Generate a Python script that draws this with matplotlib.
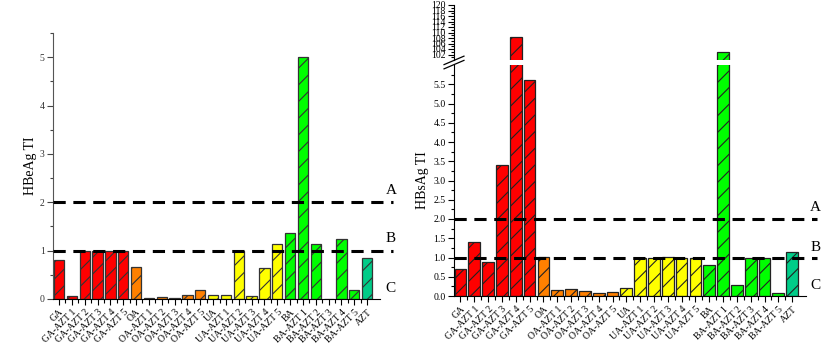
import matplotlib
matplotlib.use("Agg")
import matplotlib.pyplot as plt
from matplotlib.ticker import MultipleLocator, FixedLocator
import numpy as np

plt.rcParams['font.family'] = ['Liberation Serif', 'DejaVu Serif']
plt.rcParams['hatch.linewidth'] = 0.8

labels = ["GA", "GA-AZT 1", "GA-AZT 2", "GA-AZT 3", "GA-AZT 4", "GA-AZT 5",
          "OA", "OA-AZT 1", "OA-AZT 2", "OA-AZT 3", "OA-AZT 4", "OA-AZT 5",
          "UA", "UA-AZT 1", "UA-AZT 2", "UA-AZT 3", "UA-AZT 4", "UA-AZT 5",
          "BA", "BA-AZT 1", "BA-AZT 2", "BA-AZT 3", "BA-AZT 4", "BA-AZT 5",
          "AZT"]
groups = ["GA"] * 6 + ["OA"] * 6 + ["UA"] * 6 + ["BA"] * 6 + ["AZT"]
group_colors = {"GA": "#FF0000", "OA": "#FF8000", "UA": "#FFFF00",
                "BA": "#00FF00", "AZT": "#00CC88"}

hbeag = [0.81, 0.06, 1.0, 1.0, 1.0, 1.0,
         0.66, 0.03, 0.04, 0.03, 0.08, 0.18,
         0.08, 0.08, 1.0, 0.07, 0.65, 1.13,
         1.36, 5.0, 1.13, 0.01, 1.25, 0.19,
         0.84]
hbsag = [0.70, 1.40, 0.88, 3.40, 108.2, 5.60,
         1.02, 0.16, 0.17, 0.14, 0.085, 0.11,
         0.21, 1.0, 1.0, 1.01, 1.0, 1.0,
         0.81, 102.9, 0.29, 1.0, 1.0, 0.08,
         1.15]
thresholds = [2.0, 1.0]
zone_labels = ["A", "B", "C"]

colors = [group_colors[g] for g in groups]
x = np.arange(len(labels))

fig = plt.figure(figsize=(8.3, 3.53), dpi=100)

def style_x(ax, show_labels=True):
    ax.set_xlim(-0.47, 25.0)
    ax.xaxis.set_major_locator(FixedLocator(x))
    ax.xaxis.set_minor_locator(FixedLocator(x[:-1] + 0.5))
    if show_labels:
        ax.set_xticklabels(labels, rotation=45, ha='right', rotation_mode='anchor',
                           fontsize=7)
    ax.tick_params(axis='x', which='major', direction='out', length=4, width=0.8, pad=2)
    ax.tick_params(axis='x', which='minor', direction='out', length=3, width=0.8)

# ---------------- Left chart ----------------
axL = fig.add_axes([53 / 830, 1 - 299 / 353, 327 / 830, 266 / 353])
axL.bar(x, hbeag, width=0.8, color=colors, edgecolor='#333333', linewidth=0.9,
        hatch='//', zorder=2)
axL.set_ylim(0, 5.5)
axL.yaxis.set_major_locator(MultipleLocator(1))
axL.yaxis.set_minor_locator(MultipleLocator(0.5))
axL.tick_params(axis='y', which='major', direction='out', length=4, width=0.8,
                labelsize=7, colors='#444444', labelcolor='#333333', pad=2)
axL.tick_params(axis='y', which='minor', direction='out', length=2.5, width=0.8,
                colors='#444444')
style_x(axL)
for s in ['top', 'right']:
    axL.spines[s].set_visible(False)
axL.spines['left'].set_color('#555555')
axL.spines['bottom'].set_color('black')
for t in thresholds:
    axL.plot([-0.47, 26.0], [t, t], color='black', lw=2.2, ls=(0, (4, 2.5)),
             clip_on=False, zorder=3)
axL.set_ylabel("HBeAg TI", fontsize=10, labelpad=2)
for lab, yv in zip(zone_labels, [2.25, 1.25, 0.22]):
    axL.text(25.45, yv, lab, fontsize=11, ha='left', va='center', clip_on=False)

# ---------------- Right chart ----------------
left_r = 454 / 830
width_r = 352 / 830
axB = fig.add_axes([left_r, 1 - 296 / 353, width_r, (296 - 65) / 353])
axT = fig.add_axes([left_r, 1 - 60 / 353, width_r, 55 / 353], sharex=axB)

for ax in (axB, axT):
    ax.bar(x, hbsag, width=0.85, color=colors, edgecolor='#222222', linewidth=0.9,
           hatch='//', zorder=2)
    for s in ['top', 'right']:
        ax.spines[s].set_visible(False)

axB.set_ylim(0, 6.0)
axB.yaxis.set_major_locator(FixedLocator(np.arange(0, 5.51, 0.5)))
axB.yaxis.set_minor_locator(FixedLocator(np.arange(0.25, 5.9, 0.5)))
axB.yaxis.set_major_formatter(matplotlib.ticker.FormatStrFormatter('%.1f'))
axB.tick_params(axis='y', which='major', direction='out', length=4, width=0.8,
                labelsize=7, pad=2)
axB.tick_params(axis='y', which='minor', direction='out', length=2.5, width=0.8)
style_x(axB)

axT.set_ylim(100, 120)
axT.yaxis.set_major_locator(FixedLocator(np.arange(102, 121, 2)))
axT.yaxis.set_minor_locator(FixedLocator(np.arange(101, 120, 2)))
axT.tick_params(axis='y', which='major', direction='out', length=4, width=0.8,
                labelsize=7, pad=2)
axT.tick_params(axis='y', which='minor', direction='out', length=2.5, width=0.8)
axT.spines['bottom'].set_visible(False)
axT.tick_params(axis='x', which='both', bottom=False, labelbottom=False)

# break marks
d = 0.012
kw = dict(transform=fig.transFigure, color='black', lw=0.9, clip_on=False)
yb = 1 - 62.5 / 353
for off in (-0.006, 0.006):
    fig.add_artist(plt.Line2D([left_r - d, left_r + d],
                              [yb - 0.012 + off, yb + 0.012 + off], **kw))

for t in thresholds:
    axB.plot([-0.47, 25.8], [t, t], color='black', lw=2.2, ls=(0, (4, 2.5)),
             clip_on=False, zorder=3)
axB.set_ylabel("HBsAg TI", fontsize=10, labelpad=3)
for lab, yv in zip(zone_labels, [2.3, 1.27, 0.27]):
    axB.text(25.3, yv, lab, fontsize=11, ha='left', va='center', clip_on=False)

fig.savefig("out.png", dpi=100)
